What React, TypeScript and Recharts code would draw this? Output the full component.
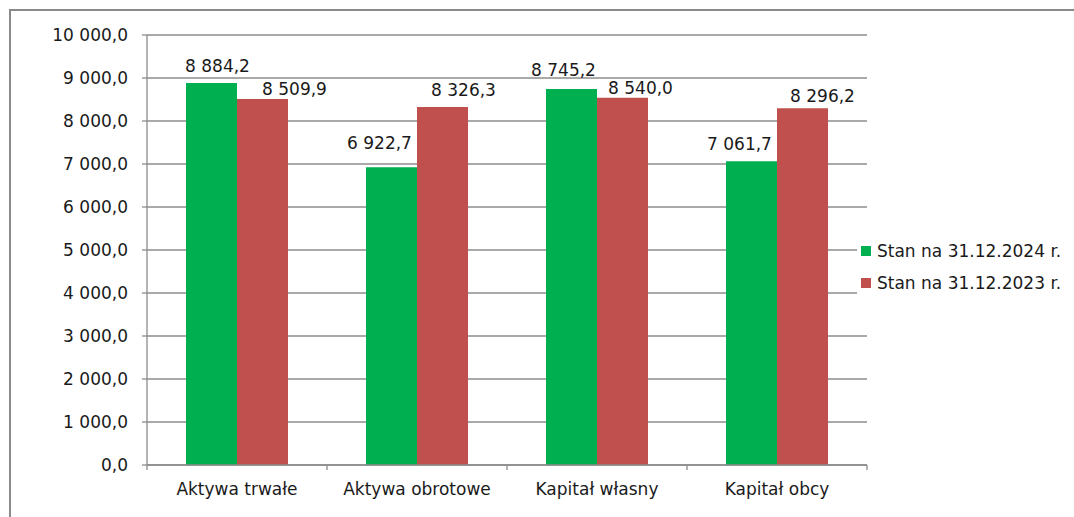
import React from "react";
import {
  Bar,
  BarChart,
  CartesianGrid,
  LabelList,
  Legend,
  XAxis,
  YAxis,
} from "recharts";

const categories = ["Aktywa trwałe", "Aktywa obrotowe", "Kapitał własny", "Kapitał obcy"];
const stan2024 = [8884.2, 6922.7, 8745.2, 7061.7];
const stan2023 = [8509.9, 8326.3, 8540.0, 8296.2];
const seriesNames = ["Stan na 31.12.2024 r.", "Stan na 31.12.2023 r."];
const yTicks = [0, 1000, 2000, 3000, 4000, 5000, 6000, 7000, 8000, 9000, 10000];

// labels were nudged by hand in the original, keep the shifts here
const shift2024 = [
  [6, 11],
  [-12, 18],
  [-8, 13],
  [-12, 11],
];
const shift2023 = [
  [32, 4],
  [21, 11],
  [18, 4],
  [20, 6],
];

const GREEN = "#00b050";
const RED = "#c0504d";
const GRID = "#8c8c8c";
const TEXT = "#1a1a1a";
const FONT = "'DejaVu Sans', sans-serif";

const data = categories.map((name, i) => ({
  name,
  s2024: stan2024[i],
  s2023: stan2023[i],
}));

function fmt(v: number) {
  const [int, dec] = v.toFixed(1).split(".");
  return int.replace(/\B(?=(\d{3})+(?!\d))/g, " ") + "," + dec;
}

function makeLabel(shifts: number[][]) {
  return (props: any) => {
    const { x, y, width, value, index } = props;
    const [dx, gap] = shifts[index] ?? [0, 10];
    return (
      <text
        x={Number(x) + Number(width) / 2 + dx}
        y={Number(y) - gap}
        textAnchor="middle"
        fontSize={17}
        fontFamily={FONT}
        fill={TEXT}
      >
        {fmt(Number(value))}
      </text>
    );
  };
}

// category label plus Excel-style tick marks on the category boundaries
function CategoryTick(props: any) {
  const { x, y, payload, index } = props;
  const half = Number(payload?.offset) || 0;
  const top = Number(y) - 13 - 5;
  const last = index === categories.length - 1;
  return (
    <g>
      {half > 0 && (
        <line x1={x - half} x2={x - half} y1={top} y2={top + 5} stroke={GRID} strokeWidth={1.3} />
      )}
      {half > 0 && last && (
        <line x1={x + half} x2={x + half} y1={top} y2={top + 5} stroke={GRID} strokeWidth={1.3} />
      )}
      <text x={x} y={y} dy={12} textAnchor="middle" fontSize={17} fontFamily={FONT} fill={TEXT}>
        {payload.value}
      </text>
    </g>
  );
}

function LegendBox() {
  const colors = [GREEN, RED];
  return (
    <div style={{ background: "#fff", paddingLeft: 4, fontFamily: FONT, fontSize: 17, color: TEXT }}>
      {seriesNames.map((n, i) => (
        <div key={n} style={{ display: "flex", alignItems: "center", height: 32 }}>
          <span style={{ width: 10, height: 10, background: colors[i], marginRight: 6, display: "inline-block" }} />
          <span>{n}</span>
        </div>
      ))}
    </div>
  );
}

export default function App() {
  return (
    <div
      style={{
        position: "absolute",
        left: 0,
        top: 0,
        width: 1074,
        height: 517,
        background: "#fff",
        fontFamily: FONT,
        overflow: "hidden",
      }}
    >
      <div
        style={{
          position: "absolute",
          left: 9,
          top: 9,
          width: 1100,
          height: 600,
          borderTop: "2px solid #8a8a8a",
          borderLeft: "2px solid #8a8a8a",
        }}
      />
      <BarChart
        width={1074}
        height={517}
        data={data}
        margin={{ top: 35, right: 207, left: 0, bottom: 0 }}
        barCategoryGap={39}
        barGap={0}
        style={{ position: "absolute", left: 0, top: 0 }}
      >
        <CartesianGrid vertical={false} stroke={GRID} strokeWidth={1.3} />
        <XAxis
          dataKey="name"
          height={52}
          tickLine={false}
          tickSize={5}
          tickMargin={13}
          interval={0}
          axisLine={{ stroke: GRID, strokeWidth: 1.3 }}
          tick={<CategoryTick />}
        />
        <YAxis
          width={147}
          domain={[0, 10000]}
          ticks={yTicks}
          tickFormatter={fmt}
          tickSize={5}
          tickMargin={14}
          interval={0}
          axisLine={{ stroke: GRID, strokeWidth: 1.3 }}
          tickLine={{ stroke: GRID, strokeWidth: 1.3 }}
          tick={{ fontSize: 17, fontFamily: FONT, fill: TEXT }}
        />
        <Legend
          layout="horizontal"
          verticalAlign="middle"
          align="center"
          content={<LegendBox />}
          wrapperStyle={{ left: 857, top: 235, width: 215 }}
        />
        <Bar dataKey="s2024" name={seriesNames[0]} fill={GREEN} isAnimationActive={false}>
          <LabelList dataKey="s2024" content={makeLabel(shift2024)} />
        </Bar>
        <Bar dataKey="s2023" name={seriesNames[1]} fill={RED} isAnimationActive={false}>
          <LabelList dataKey="s2023" content={makeLabel(shift2023)} />
        </Bar>
      </BarChart>
    </div>
  );
}
